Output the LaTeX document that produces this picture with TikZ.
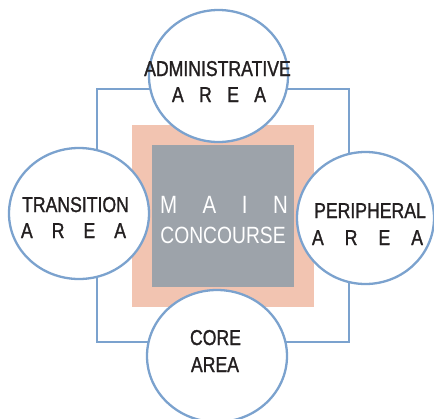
\documentclass[tikz,border=0pt]{standalone}
\usepackage{fontspec}
\setmainfont[FakeStretch=0.82]{Liberation Sans}
\newfontfamily\lblfont[FakeStretch=0.82,FakeBold=1.2]{Liberation Sans}
\usetikzlibrary{shapes.geometric}
\definecolor{ringblue}{HTML}{7BA2CE}
\definecolor{peach}{HTML}{F2C4B1}
\definecolor{slate}{HTML}{9DA3AA}
\definecolor{ink}{HTML}{231F20}
\tikzset{
  area/.style={ellipse, draw=ringblue, line width=2.3pt, fill=white, inner sep=0pt},
  lbl/.style={anchor=base, inner sep=0pt, text=ink, font=\lblfont\fontsize{21.5}{24}\selectfont},
  wlbl/.style={anchor=base, inner sep=0pt, text=white},
}
\begin{document}
\begin{tikzpicture}[x=1pt,y=-1pt]
\useasboundingbox (0,0) rectangle (434,418);
% outer frame
\draw[ringblue, line width=2.3pt] (97,89) rectangle (349,342);
% peach and grey squares
\fill[peach] (132,125) rectangle (314,307);
\node[fill=slate, minimum width=142pt, minimum height=142pt, inner sep=0pt] (main) at (223,216) {};
% areas
\node[area, minimum width=139pt, minimum height=132pt] (adm) at (218.5,76) {};
\node[area, minimum width=140pt, minimum height=131pt] (tra) at (79,213.5) {};
\node[area, minimum width=137pt, minimum height=132pt] (per) at (365.5,218) {};
\node[area, minimum width=140pt, minimum height=132pt] (cor) at (217,356) {};
% labels
\node[lbl] (admt) at (217.5,76) {ADMINISTRATIVE};
\node[lbl] (adma) at (219,102) {\makebox[94pt][s]{A\hfill R\hfill E\hfill A}};
\node[lbl] (trat) at (75.5,212) {TRANSITION};
\node[lbl] (traa) at (73.5,238) {\makebox[105pt][s]{A\hfill R\hfill E\hfill A}};
\node[lbl] (pert) at (370,218) {PERIPHERAL};
\node[lbl] (pera) at (367.5,245) {\makebox[111pt][s]{A\hfill R\hfill E\hfill A}};
\node[lbl] (cort) at (215.5,345) {CORE};
\node[lbl] (cora) at (215,372) {AREA};
\node[wlbl, font=\fontsize{25}{28}\selectfont] (mainm) at (224,213) {\makebox[128pt][s]{M\hfill A\hfill I\hfill N}};
\node[wlbl, font=\fontsize{23.5}{26}\selectfont] (mainc) at (223,243) {CONCOURSE};
\end{tikzpicture}
\end{document}
